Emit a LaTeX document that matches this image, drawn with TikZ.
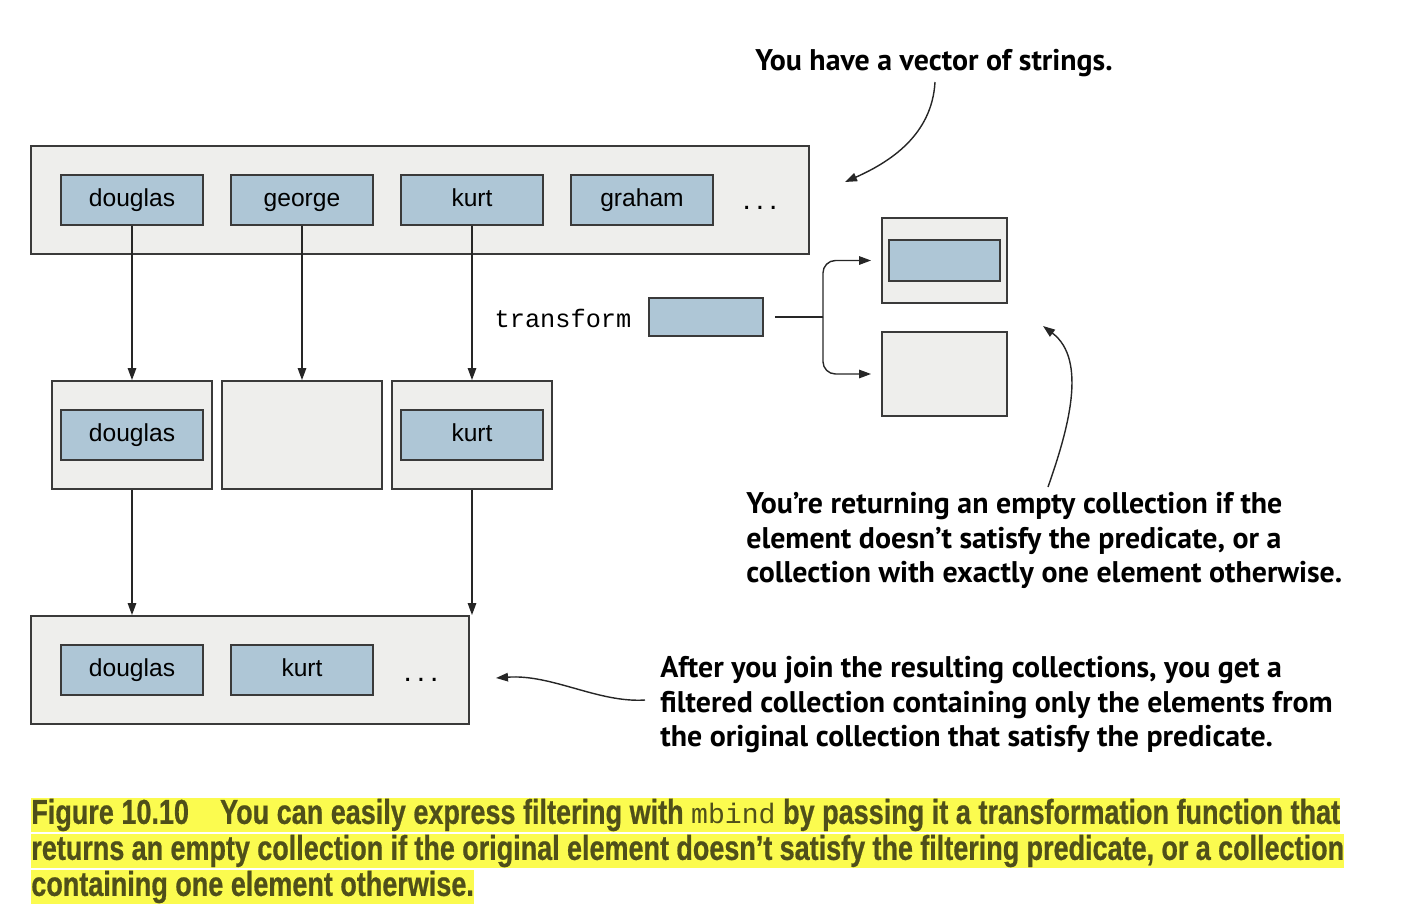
\documentclass[tikz,border=0pt]{standalone}
\usepackage{fontspec}
\setmainfont{Liberation Sans}
\newfontfamily\notefont{PT Sans}
\newfontfamily\codefont{Liberation Mono}
\newfontfamily\capfont[FakeStretch=0.78,FakeBold=0.6]{Liberation Sans Bold}
\usetikzlibrary{arrows.meta}

\definecolor{boxgray}{HTML}{EEEEEC}
\definecolor{elemblue}{HTML}{AEC6D6}
\definecolor{edgegray}{HTML}{3A3A3A}
\definecolor{capyellow}{HTML}{FBFB4F}
\definecolor{captext}{HTML}{4F4F1A}

\begin{document}
\begin{tikzpicture}[x=0.02cm,y=-0.02cm,
font=\fontsize{14}{16}\selectfont,
flow/.style={-{Triangle[length=2.4mm,width=1.7mm]},line width=0.8pt,draw=black!85},
coll/.style={draw=edgegray,line width=1.1pt,fill=boxgray,minimum height=2.16cm,inner sep=0pt},
elem/.style={draw=edgegray,line width=1.1pt,fill=elemblue,minimum width=2.84cm,minimum height=1cm,inner sep=0pt,text height=1.8ex,text depth=0.4ex},
dots/.style={font=\fontsize{17}{18}\selectfont},
note/.style={font=\notefont\bfseries\fontsize{17}{19.6}\selectfont,align=left,inner sep=0pt},
capline/.style={font=\capfont\fontsize{19.7}{21}\selectfont,fill=capyellow,text=captext,anchor=west,inner xsep=0pt,inner ysep=0pt,minimum height=0.68cm}
]
\useasboundingbox (0,0) rectangle (1412,920);

% vector of strings
\node[coll,minimum width=15.56cm] (vec) at (420,200) {};
\node[elem] (v1) at (132,200) {douglas};
\node[elem] (v2) at (302,200) {george};
\node[elem] (v3) at (472,200) {kurt};
\node[elem] (v4) at (642,200) {graham};
\node[dots] (vdots) at (760,208) {.\,.\,.};

% results of transform for each element
\node[coll,minimum width=3.2cm] (m1) at (132,435) {};
\node[coll,minimum width=3.2cm] (m2) at (302,435) {};
\node[coll,minimum width=3.2cm] (m3) at (472,435) {};
\node[elem] (m1e) at (132,435) {douglas};
\node[elem] (m3e) at (472,435) {kurt};

% joined collection
\node[coll,minimum width=8.76cm] (res) at (250,670) {};
\node[elem] (r1) at (132,670) {douglas};
\node[elem] (r2) at (302,670) {kurt};
\node[dots] (rdots) at (421,680) {.\,.\,.};

% the transformation function
\node[font=\codefont\fontsize{14.4}{16}\selectfont] (tlabel) at (563,318) {transform};
\node[elem,minimum width=2.28cm,minimum height=0.76cm] (fn) at (706,317) {};
\node[coll,minimum width=2.5cm,minimum height=1.7cm] (one) at (944.5,260.5) {};
\node[elem,minimum width=2.22cm,minimum height=0.82cm] (onee) at (944.5,260.5) {};
\node[coll,minimum width=2.5cm,minimum height=1.68cm] (none) at (944.5,374) {};

\foreach \a/\b in {v1/m1,v2/m2,v3/m3}
 \draw[flow] (\a) -- (\b);
\draw[flow] (m1) -- (m1 |- res.north);
\draw[flow] (m3) -- (m3 |- res.north);

\draw[line width=0.8pt,draw=black!85] ([xshift=0.22cm]fn.east) -- ++(48,0) coordinate (split);
\draw[flow,rounded corners=0.25cm] (split) |- ([xshift=-0.2cm]one.west);
\draw[flow,rounded corners=0.25cm] (split) |- ([xshift=-0.2cm]none.west);

% annotations
\node[note,anchor=base] (note1) at (934,70) {You have a vector of strings.};
\node[note,anchor=north west] (note2) at (746,492) {You’re returning an empty collection if the\\element doesn’t satisfy the predicate, or a\\collection with exactly one element otherwise.};
\node[note,anchor=north west] (note3) at (660,656) {After you join the resulting collections, you get a\\filtered collection containing only the elements from\\the original collection that satisfy the predicate.};

\coordinate (vecTip) at (845,182);
\coordinate (noneTip) at (1043,326);
\coordinate (resTip) at (496,678);
\draw[flow] (935,82) .. controls (932,135) and (890,162) .. (vecTip);
\draw[flow] (1048,487) .. controls (1068,430) and (1088,360) .. (noneTip);
\draw[flow] (645,700) .. controls (598,703) and (552,674) .. (resTip);

% caption
\node[capline] (cap1) at (31,815) {\hbox to 26.18cm{Figure 10.10\hspace{0.9em}You can easily express filtering with {\codefont\fontsize{16}{18}\selectfont mbind} by passing it a transformation function that}};
\node[capline] (cap2) at (31,851) {\hbox to 26.26cm{returns an empty collection if the original element doesn’t satisfy the filtering predicate, or a collection}};
\node[capline] (cap3) at (31,887) {containing one element otherwise.};
\end{tikzpicture}
\end{document}
